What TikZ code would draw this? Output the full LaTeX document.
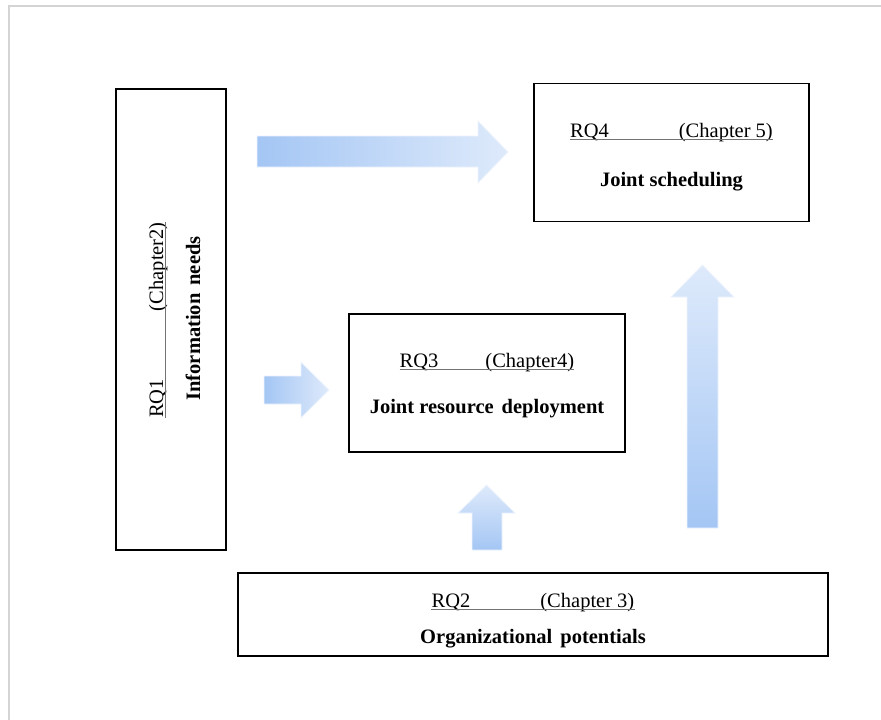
\documentclass[tikz,border=0pt]{standalone}
\usepackage{fontspec}
\setmainfont{Liberation Serif}
\usetikzlibrary{calc}
\definecolor{adark}{RGB}{164,198,244}
\definecolor{alight}{RGB}{222,234,251}
\definecolor{framegray}{RGB}{212,212,212}
\begin{document}
\begin{tikzpicture}[x=1pt,y=-1pt,
  box/.style={draw=black, line width=1.8pt, inner sep=0pt},
  rqtext/.style={anchor=base, inner sep=0pt, font=\fontsize{20.5}{24}\selectfont},
  topictext/.style={anchor=base, inner sep=0pt, font=\fontsize{20.5}{24}\selectfont\bfseries},
  uline/.style={draw=black!55, line width=0.9pt},
  blockarrow/.style={draw=alight!50!white, line width=0.8pt},
  frameline/.style={draw=framegray, line width=2pt}
]
\useasboundingbox (0,0) rectangle (881,720);

% page frame
\draw[frameline] (8.5,720) -- (8.5,6) -- (881,6);

% boxes
\node[box, minimum width=110, minimum height=461] (rq1) at (171,319.5) {};
\node[box, minimum width=590, minimum height=83]  (rq2) at (533,614.5) {};
\node[box, minimum width=276, minimum height=138] (rq3) at (487,383) {};
\node[box, minimum width=275, minimum height=138] (rq4) at (671.5,152.5) {};

% RQ1 (rotated)
\node[rqtext, rotate=90] (rq1a) at (163,320) {RQ1\hspace{68pt}(Chapter2)};
\node[topictext, rotate=90] (rq1b) at (200,318.5) {Information\hspace{8pt}needs};
\draw[uline] ($(rq1a.base west)+(2,0)$) -- ($(rq1a.base east)+(2,0)$);

% RQ2
\node[rqtext] (rq2a) at (533,607) {RQ2\hspace{70pt}(Chapter 3)};
\node[topictext] (rq2b) at (533,643) {Organizational\hspace{8pt}potentials};
\draw[uline] ($(rq2a.base west)+(0,2)$) -- ($(rq2a.base east)+(0,2)$);

% RQ3
\node[rqtext] (rq3a) at (487,367) {RQ3\hspace{47pt}(Chapter4)};
\node[topictext] (rq3b) at (487,413) {Joint resource\hspace{8pt}deployment};
\draw[uline] ($(rq3a.base west)+(0,2)$) -- ($(rq3a.base east)+(0,2)$);

% RQ4
\node[rqtext] (rq4a) at (671.5,137) {RQ4\hspace{70pt}(Chapter 5)};
\node[topictext] (rq4b) at (671.5,186) {Joint scheduling};
\draw[uline] ($(rq4a.base west)+(0,2)$) -- ($(rq4a.base east)+(0,2)$);

% block arrows
\shade[blockarrow, left color=adark, right color=alight]
  (257,136) -- (478,136) -- (478,121) -- (508,152) -- (478,183) -- (478,167) -- (257,167) -- cycle;
\shade[blockarrow, left color=adark, right color=alight]
  (264,376) -- (301,376) -- (301,362) -- (329,390) -- (301,418) -- (301,404) -- (264,404) -- cycle;
\shade[blockarrow, bottom color=adark, top color=alight]
  (472,550) -- (472,513) -- (458,513) -- (486.5,485) -- (515,513) -- (502,513) -- (502,550) -- cycle;
\shade[blockarrow, bottom color=adark, top color=alight]
  (687,528) -- (687,297) -- (671,297) -- (702.5,265) -- (734,297) -- (718,297) -- (718,528) -- cycle;
\end{tikzpicture}
\end{document}
